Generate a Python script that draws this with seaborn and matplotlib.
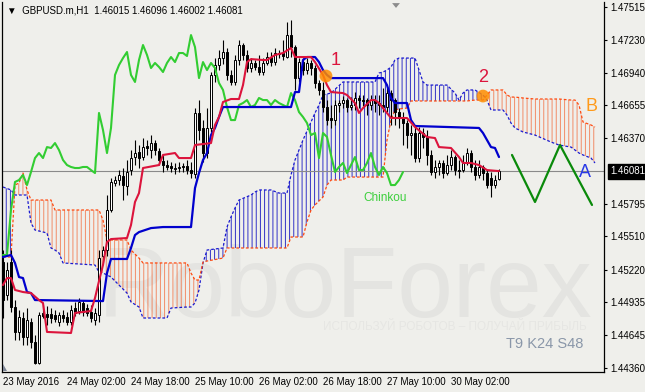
import numpy as np
import matplotlib
matplotlib.use("Agg")
import matplotlib.pyplot as plt
import matplotlib.transforms as mtrans
from matplotlib.patches import Polygon
import seaborn as sns

# ---------------- data ----------------
symbol_header = "GBPUSD.m,H1"
last_ohlc = [1.46015, 1.46096, 1.46002, 1.46081]
current_price = 1.46081

bar_open = [
    1.45286, 1.44998, 1.45286, 1.44893, 1.44675, 1.44797, 1.44631, 1.44762, 1.44587, 1.44404,
    1.44841, 1.44832, 1.44832, 1.44823, 1.44762, 1.44823, 1.44806, 1.44762, 1.44884, 1.44858,
    1.44928, 1.44884, 1.44849, 1.44779, 1.44823, 1.45339, 1.45391, 1.45741, 1.45977, 1.46003,
    1.46038, 1.45951, 1.46090, 1.46204, 1.46248, 1.46204, 1.46300, 1.46265, 1.46326, 1.46256,
    1.46169, 1.46134, 1.46125, 1.46099, 1.46108, 1.46125, 1.46125, 1.46090, 1.46055, 1.46589,
    1.46458, 1.46239, 1.46458, 1.46921, 1.47008, 1.47069, 1.47122, 1.46921, 1.46860, 1.47052,
    1.47183, 1.47096, 1.46982, 1.47026, 1.46991, 1.46947, 1.47026, 1.47078, 1.47034, 1.47113,
    1.47113, 1.47078, 1.47270, 1.47165, 1.46894, 1.47034, 1.46964, 1.47026, 1.46982, 1.46851,
    1.46790, 1.46641, 1.46545, 1.46527, 1.46659, 1.46676, 1.46702, 1.46641, 1.46659, 1.46720,
    1.46702, 1.46702, 1.46659, 1.46702, 1.46676, 1.46659, 1.46641, 1.46763, 1.46702, 1.46597,
    1.46554, 1.46501, 1.46396, 1.46414, 1.46195, 1.46414, 1.46379, 1.46222, 1.46073, 1.46117,
    1.46152, 1.46064, 1.46134, 1.46204, 1.46090, 1.46090, 1.46152, 1.46239, 1.46117, 1.46047,
    1.46117, 1.46064, 1.46021, 1.45959, 1.46015]
bar_high = [
    1.45391, 1.45286, 1.45391, 1.44954, 1.44867, 1.44849, 1.44884, 1.44797, 1.44648, 1.44849,
    1.44910, 1.44902, 1.44884, 1.44867, 1.44849, 1.44867, 1.44849, 1.44910, 1.44937, 1.44972,
    1.44954, 1.44919, 1.44910, 1.44884, 1.45391, 1.45426, 1.45872, 1.46021, 1.46038, 1.46090,
    1.46108, 1.46178, 1.46265, 1.46353, 1.46309, 1.46370, 1.46353, 1.46396, 1.46353, 1.46283,
    1.46222, 1.46178, 1.46160, 1.46152, 1.46160, 1.46152, 1.46178, 1.46160, 1.46632, 1.46702,
    1.46527, 1.46632, 1.46947, 1.47069, 1.47139, 1.47227, 1.47157, 1.46964, 1.47096, 1.47227,
    1.47200, 1.47139, 1.47069, 1.47052, 1.47096, 1.47069, 1.47122, 1.47122, 1.47157, 1.47139,
    1.47227, 1.47384, 1.47401, 1.47183, 1.47069, 1.47069, 1.47069, 1.47052, 1.47008, 1.46877,
    1.46860, 1.46702, 1.46659, 1.46702, 1.46702, 1.46737, 1.46720, 1.46728, 1.46772, 1.46746,
    1.46746, 1.46720, 1.46746, 1.46746, 1.46746, 1.46807, 1.46807, 1.46790, 1.46720, 1.46632,
    1.46597, 1.46527, 1.46484, 1.46484, 1.46466, 1.46458, 1.46440, 1.46265, 1.46178, 1.46178,
    1.46178, 1.46222, 1.46265, 1.46222, 1.46178, 1.46222, 1.46283, 1.46265, 1.46178, 1.46178,
    1.46134, 1.46090, 1.46073, 1.46047, 1.46096]
bar_low = [
    1.44797, 1.44954, 1.44849, 1.44605, 1.44605, 1.44561, 1.44561, 1.44535, 1.44395, 1.44395,
    1.44797, 1.44736, 1.44753, 1.44762, 1.44727, 1.44762, 1.44736, 1.44736, 1.44814, 1.44832,
    1.44814, 1.44814, 1.44762, 1.44736, 1.44762, 1.45286, 1.45339, 1.45723, 1.45951, 1.45959,
    1.45828, 1.45872, 1.46047, 1.46134, 1.46108, 1.46178, 1.46222, 1.46195, 1.46222, 1.46134,
    1.46073, 1.46090, 1.46073, 1.46055, 1.46073, 1.46073, 1.46055, 1.46021, 1.46021, 1.46353,
    1.46160, 1.46195, 1.46423, 1.46860, 1.46964, 1.47017, 1.46877, 1.46833, 1.46833, 1.47008,
    1.47052, 1.46947, 1.46947, 1.46964, 1.46921, 1.46921, 1.47008, 1.46999, 1.47008, 1.47069,
    1.47052, 1.47069, 1.47078, 1.46790, 1.46860, 1.46921, 1.46929, 1.46921, 1.46807, 1.46746,
    1.46597, 1.46484, 1.46458, 1.46484, 1.46597, 1.46632, 1.46597, 1.46615, 1.46615, 1.46632,
    1.46650, 1.46571, 1.46615, 1.46597, 1.46571, 1.46597, 1.46597, 1.46484, 1.46484, 1.46458,
    1.46309, 1.46283, 1.46222, 1.46160, 1.46160, 1.46283, 1.46134, 1.46047, 1.46021, 1.46047,
    1.46021, 1.46047, 1.46090, 1.46047, 1.46021, 1.46073, 1.46134, 1.46073, 1.46003, 1.46021,
    1.46003, 1.45933, 1.45854, 1.45933, 1.46002]
bar_close = [
    1.44954, 1.45216, 1.44893, 1.44675, 1.44806, 1.44631, 1.44779, 1.44587, 1.44404, 1.44823,
    1.44814, 1.44806, 1.44797, 1.44788, 1.44823, 1.44797, 1.44762, 1.44867, 1.44841, 1.44937,
    1.44849, 1.44841, 1.44797, 1.44841, 1.45321, 1.45391, 1.45741, 1.45986, 1.46003, 1.46047,
    1.45959, 1.46073, 1.46195, 1.46239, 1.46195, 1.46291, 1.46283, 1.46326, 1.46265, 1.46178,
    1.46134, 1.46117, 1.46108, 1.46108, 1.46117, 1.46117, 1.46090, 1.46064, 1.46589, 1.46440,
    1.46239, 1.46458, 1.46921, 1.47008, 1.47069, 1.47122, 1.46921, 1.46860, 1.47052, 1.47183,
    1.47096, 1.46982, 1.47026, 1.46991, 1.46947, 1.47026, 1.47078, 1.47034, 1.47113, 1.47105,
    1.47087, 1.47270, 1.47165, 1.46894, 1.47034, 1.46964, 1.47026, 1.46982, 1.46851, 1.46790,
    1.46641, 1.46527, 1.46527, 1.46659, 1.46676, 1.46702, 1.46641, 1.46659, 1.46720, 1.46702,
    1.46694, 1.46659, 1.46702, 1.46676, 1.46659, 1.46641, 1.46763, 1.46702, 1.46597, 1.46554,
    1.46501, 1.46396, 1.46414, 1.46195, 1.46414, 1.46379, 1.46222, 1.46073, 1.46117, 1.46152,
    1.46064, 1.46134, 1.46204, 1.46090, 1.46082, 1.46152, 1.46239, 1.46117, 1.46047, 1.46117,
    1.46064, 1.45959, 1.45959, 1.46003, 1.46081]

x_tick_bars = [0, 16, 32, 48, 64, 80, 96, 112]
x_tick_labels = ["23 May 2016", "24 May 02:00", "24 May 18:00", "25 May 10:00",
                 "26 May 02:00", "26 May 18:00", "27 May 10:00", "30 May 02:00"]
y_tick_values = [1.47515, 1.47230, 1.46940, 1.46655, 1.46370, 1.45795,
                 1.45510, 1.45220, 1.44935, 1.44645, 1.44360]

# Tenkan-sen (9)
tenkan_bar = [0, 1, 2, 3, 5, 7, 9, 10, 11, 17, 18, 22, 23, 24, 25, 26, 27, 31, 32, 33,
              34, 35, 39, 40, 43, 44, 47, 48, 52, 53, 54, 55, 57, 59, 60, 61, 62, 65, 66, 68,
              70, 72, 73, 77, 78, 80, 81, 82, 85, 86, 88, 89, 90, 92, 93, 94, 95, 97, 101, 103,
              106, 108, 109, 112, 114, 115, 117, 119, 121, 124]
tenkan_val = [1.45085, 1.45146, 1.45146, 1.45042, 1.45024, 1.45015, 1.44954, 1.44928, 1.44675, 1.44666,
              1.44841, 1.44858, 1.44972, 1.45120, 1.45260, 1.45461, 1.45487, 1.45496, 1.45610, 1.45811,
              1.45889, 1.46108, 1.46134, 1.46222, 1.46239, 1.46195, 1.46195, 1.46309, 1.46326, 1.46484,
              1.46554, 1.46685, 1.46711, 1.46711, 1.46833, 1.47034, 1.47060, 1.47052, 1.47052, 1.47096,
              1.47113, 1.47157, 1.47078, 1.47078, 1.47034, 1.46921, 1.46833, 1.46772, 1.46763, 1.46746,
              1.46676, 1.46589, 1.46632, 1.46702, 1.46702, 1.46676, 1.46632, 1.46545, 1.46545, 1.46466,
              1.46379, 1.46370, 1.46291, 1.46283, 1.46204, 1.46152, 1.46152, 1.46134, 1.46090, 1.46081]

# Kijun-sen (24)
kijun_bar = [0, 2, 3, 4, 5, 6, 7, 8, 25, 26, 27, 31, 32, 33, 34, 37, 40, 47, 48, 49,
             50, 51, 52, 53, 54, 55, 72, 73, 74, 75, 76, 78, 79, 80, 81, 82, 95, 96, 97, 98,
             101, 102, 103, 119, 120, 122, 123, 124]
kijun_val = [1.45330, 1.45348, 1.45278, 1.45155, 1.45146, 1.45024, 1.45015, 1.44954, 1.44945, 1.45190,
             1.45313, 1.45313, 1.45409, 1.45522, 1.45548, 1.45583, 1.45592, 1.45592, 1.45933, 1.46064,
             1.46178, 1.46239, 1.46396, 1.46458, 1.46554, 1.46641, 1.46641, 1.46772, 1.46772, 1.47052,
             1.47078, 1.47078, 1.47034, 1.46964, 1.46921, 1.46894, 1.46894, 1.46833, 1.46720, 1.46676,
             1.46676, 1.46527, 1.46475, 1.46458, 1.46414, 1.46291, 1.46283, 1.46204]

# Chinkou span (plotted 24 bars back, one value per bar from bar 0)
chinkou_val = [
    1.45348, 1.45348, 1.45741, 1.45986, 1.46003, 1.46047, 1.45959, 1.46073, 1.46195, 1.46239,
    1.46195, 1.46291, 1.46283, 1.46326, 1.46265, 1.46178, 1.46134, 1.46117, 1.46108, 1.46108,
    1.46117, 1.46117, 1.46090, 1.46064, 1.46589, 1.46440, 1.46239, 1.46458, 1.46921, 1.47008,
    1.47069, 1.47122, 1.46921, 1.46860, 1.47052, 1.47183, 1.47096, 1.46982, 1.47026, 1.46991,
    1.46947, 1.47026, 1.47078, 1.47034, 1.47113, 1.47113, 1.47087, 1.47270, 1.47165, 1.46894,
    1.47034, 1.46964, 1.47026, 1.46982, 1.46851, 1.46790, 1.46641, 1.46527, 1.46527, 1.46659,
    1.46676, 1.46702, 1.46641, 1.46659, 1.46720, 1.46702, 1.46702, 1.46659, 1.46702, 1.46676,
    1.46659, 1.46641, 1.46763, 1.46702, 1.46597, 1.46554, 1.46501, 1.46396, 1.46414, 1.46195,
    1.46414, 1.46379, 1.46222, 1.46073, 1.46117, 1.46152, 1.46064, 1.46134, 1.46204, 1.46090,
    1.46090, 1.46152, 1.46239, 1.46117, 1.46047, 1.46117, 1.46064, 1.45959, 1.45959, 1.46003,
    1.46073]

# Senkou spans A and B (cloud), shifted 24 bars forward
cloud_bar = [0, 2, 3, 4, 5, 6, 7, 8, 11, 12, 13, 14, 15, 23, 24, 25, 26, 27, 29, 31,
             32, 34, 35, 41, 42, 46, 47, 48, 49, 50, 51, 55, 56, 57, 58, 59, 62, 63, 64, 67,
             69, 71, 72, 73, 74, 75, 76, 77, 78, 79, 80, 81, 82, 85, 86, 93, 94, 95, 96, 97,
             98, 99, 101, 102, 103, 105, 106, 111, 113, 114, 115, 116, 118, 120, 121, 122, 125, 126, 127, 128,
             130, 133, 137, 139, 142, 143, 144, 145, 147, 148]
senkou_a = [1.45942, 1.45916, 1.45872, 1.45872, 1.45872, 1.45872, 1.45627, 1.45566, 1.45540, 1.45409,
            1.45391, 1.45365, 1.45278, 1.45260, 1.45199, 1.45190, 1.45173, 1.45155, 1.45085, 1.45015,
            1.44937, 1.44893, 1.44797, 1.44797, 1.44884, 1.44893, 1.44893, 1.44928, 1.45042, 1.45278,
            1.45391, 1.45409, 1.45592, 1.45680, 1.45758, 1.45828, 1.45872, 1.45898, 1.45916, 1.45916,
            1.45889, 1.45889, 1.46047, 1.46178, 1.46265, 1.46353, 1.46431, 1.46510, 1.46589, 1.46659,
            1.46746, 1.46755, 1.46763, 1.46860, 1.46860, 1.46860, 1.46938, 1.46947, 1.46964, 1.46991,
            1.47052, 1.47069, 1.47069, 1.47069, 1.47069, 1.46860, 1.46833, 1.46833, 1.46763, 1.46702,
            1.46763, 1.46790, 1.46790, 1.46746, 1.46702, 1.46615, 1.46615, 1.46571, 1.46501, 1.46458,
            1.46423, 1.46396, 1.46335, 1.46309, 1.46291, 1.46265, 1.46239, 1.46222, 1.46195, 1.46152]
senkou_b = [1.45330, 1.45330, 1.45959, 1.45977, 1.46064, 1.45916, 1.45828, 1.45828, 1.45828, 1.45828,
            1.45741, 1.45741, 1.45741, 1.45741, 1.45741, 1.45653, 1.45479, 1.45479, 1.45479, 1.45479,
            1.45391, 1.45321, 1.45278, 1.45278, 1.45278, 1.45278, 1.45190, 1.45129, 1.45129, 1.45286,
            1.45295, 1.45321, 1.45409, 1.45409, 1.45409, 1.45409, 1.45409, 1.45409, 1.45409, 1.45409,
            1.45409, 1.45409, 1.45505, 1.45505, 1.45505, 1.45505, 1.45636, 1.45741, 1.45785, 1.45820,
            1.45854, 1.45959, 1.46003, 1.46003, 1.46029, 1.46029, 1.46029, 1.46029, 1.46353, 1.46527,
            1.46615, 1.46624, 1.46632, 1.46694, 1.46694, 1.46694, 1.46694, 1.46694, 1.46694, 1.46694,
            1.46694, 1.46694, 1.46702, 1.46702, 1.46746, 1.46790, 1.46790, 1.46746, 1.46728, 1.46728,
            1.46720, 1.46711, 1.46711, 1.46711, 1.46702, 1.46702, 1.46659, 1.46510, 1.46484, 1.46466]

# forecast zigzag
forecast_bar = [127.25, 133, 139.25, 147.25]
forecast_val = [1.46222, 1.45811, 1.46309, 1.45785]

# signal points
signal_bar = [80.75, 120]
signal_val = [1.46912, 1.46737]
signal_label = ["1", "2"]

# ---------------- style ----------------
BG = "#efefeb"
sns.set_style("white", {"axes.facecolor": BG, "figure.facecolor": BG,
                        "axes.edgecolor": "black"})
plt.rcParams["font.family"] = ["Liberation Sans", "DejaVu Sans"]
plt.rcParams["hatch.linewidth"] = 0.7

fig = plt.figure(figsize=(6.45, 3.92), dpi=100)
fig.patch.set_facecolor(BG)
ax = fig.add_axes([2 / 645, 20 / 392, 602 / 645, 370 / 392])
ax.set_facecolor(BG)
ax.set_xlim(-0.25, 150.25)
ax.set_ylim(1.44325, 1.47559)

# watermark
ax.text(0.570, 0.149, "RoboForex", transform=ax.transAxes, fontsize=72,
        color="#e4e4e1", ha="center", va="baseline", zorder=0.2)
ax.text(0.972, 0.1215, "ИСПОЛЬЗУЙ РОБОТОВ – ПОЛУЧАЙ ПРИБЫЛЬ", transform=ax.transAxes,
        fontsize=8.5, color="#e6e6e3", ha="right", va="center", zorder=0.2)

# cloud
cb = np.asarray(cloud_bar, float)
sa = np.asarray(senkou_a)
sb = np.asarray(senkou_b)
ax.fill_between(cb, sa, sb, where=sa >= sb, interpolate=True, facecolor="none",
                edgecolor="#1010c0", hatch="||||", linewidth=0, alpha=0.85, zorder=1)
ax.fill_between(cb, sa, sb, where=sa < sb, interpolate=True, facecolor="none",
                edgecolor="#f26a3a", hatch="||||", linewidth=0, alpha=0.75, zorder=1)
ax.plot(cb, sa, color="#1a1ad0", lw=0.9, ls=(0, (2.2, 1.6)), zorder=2)
ax.plot(cb, sb, color="#ff4a10", lw=0.9, ls=(0, (2.2, 1.6)), zorder=2)

# current price line
ax.axhline(current_price, color="#8a8a8a", lw=0.8, zorder=2)

# candles
o = np.asarray(bar_open); h = np.asarray(bar_high)
l = np.asarray(bar_low); c = np.asarray(bar_close)
idx = np.arange(len(o))
up = c >= o
ax.vlines(idx, l, h, color="black", linewidth=0.8, zorder=3)
bot = np.minimum(o, c)
hgt = np.abs(c - o)
ax.bar(idx[up], hgt[up], bottom=bot[up], width=0.55, color="white",
       edgecolor="black", linewidth=0.7, zorder=4)
ax.bar(idx[~up], hgt[~up], bottom=bot[~up], width=0.55, color="black",
       edgecolor="black", linewidth=0.7, zorder=4)

# ichimoku lines
sns.lineplot(x=kijun_bar, y=kijun_val, ax=ax, color="#0000cd", linewidth=1.6,
             estimator=None, sort=False, zorder=6, legend=False)
sns.lineplot(x=tenkan_bar, y=tenkan_val, ax=ax, color="#dc143c", linewidth=1.5,
             estimator=None, sort=False, zorder=6, legend=False)
sns.lineplot(x=np.arange(len(chinkou_val)), y=chinkou_val, ax=ax, color="#32cd32",
             linewidth=1.5, estimator=None, sort=False, zorder=5, legend=False)
sns.lineplot(x=forecast_bar, y=forecast_val, ax=ax, color="#0a8a0a", linewidth=1.6,
             estimator=None, sort=False, zorder=6, legend=False)

# signals
sns.scatterplot(x=signal_bar, y=signal_val, ax=ax, s=85, color="#ff8c00",
                edgecolor="none", alpha=0.85, zorder=9, legend=False)
offsets = [(7, 11.5), (0, 13.5)]
for lab, xb, yv, off in zip(signal_label, signal_bar, signal_val, offsets):
    ax.annotate(lab, (xb, yv), xytext=off, textcoords="offset points", ha="center",
                va="center", color="#dc143c", fontsize=13, zorder=10)

ax.annotate("A", (cloud_bar[-1], senkou_a[-1]), xytext=(-7.2, -6.5), textcoords="offset points",
            ha="center", va="center", color="#2a3ae6", fontsize=13, zorder=10)
ax.annotate("B", (cloud_bar[-1], senkou_b[-1]), xytext=(-2.2, 15), textcoords="offset points",
            ha="center", va="center", color="#ff9a1a", fontsize=13, zorder=10)
ax.annotate("Chinkou", (len(chinkou_val) - 1, chinkou_val[-1]), xytext=(-13, -18.7),
            textcoords="offset points", ha="center", va="center", color="#3ccf3c",
            fontsize=8.5, zorder=10)

ax.text(0.965, 0.077, "T9 K24 S48", transform=ax.transAxes, fontsize=10.5,
        color="#8a97a9", ha="right", va="center", zorder=10)

# header
hdr = "\u25bc  " + symbol_header + "  " + " ".join(f"{v:.5f}" for v in last_ohlc)
ax.text(0.0083, 0.978, hdr, transform=ax.transAxes, fontsize=7, color="black",
        ha="left", va="center", zorder=10)

# axes / ticks
ax.set_yticks(y_tick_values)
ax.set_yticklabels([f"{v:.5f}" for v in y_tick_values])
ax.yaxis.tick_right()
ax.tick_params(axis="y", direction="out", length=2.5, width=0.8, pad=2,
               labelsize=7, colors="black")
ax.set_xticks(x_tick_bars)
ax.set_xticklabels(x_tick_labels, ha="left")
ax.tick_params(axis="x", direction="in", length=2.5, width=0.8, pad=3.5,
               labelsize=7, colors="black")
ax.set_xlabel("")
ax.set_ylabel("")
ax.grid(False)
for side in ["left", "right", "bottom"]:
    ax.spines[side].set_visible(True)
    ax.spines[side].set_color("black")
    ax.spines[side].set_linewidth(0.9)
ax.spines["top"].set_visible(False)

# current price tag
blend = mtrans.blended_transform_factory(ax.transAxes, ax.transData)
ax.text(1.011, current_price, f"{current_price:.5f}", transform=blend, fontsize=7,
        color="white", ha="left", va="center", zorder=12, clip_on=False,
        bbox=dict(boxstyle="square,pad=0.25", fc="black", ec="black"))

# chart-shift markers
ax.add_patch(Polygon([(0.648, 0.997), (0.661, 0.997), (0.6545, 0.984)], closed=True,
                     transform=ax.transAxes, facecolor="#8c8c8c", edgecolor="none",
                     clip_on=False, zorder=12))
ax.add_patch(Polygon([(0.0017, 0.0027), (0.0083, 0.0027), (0.0017, 0.0216)], closed=True,
                     transform=ax.transAxes, facecolor="#7c8494", edgecolor="none",
                     clip_on=False, zorder=12))

fig.savefig("out.png", dpi=100, facecolor=BG)
